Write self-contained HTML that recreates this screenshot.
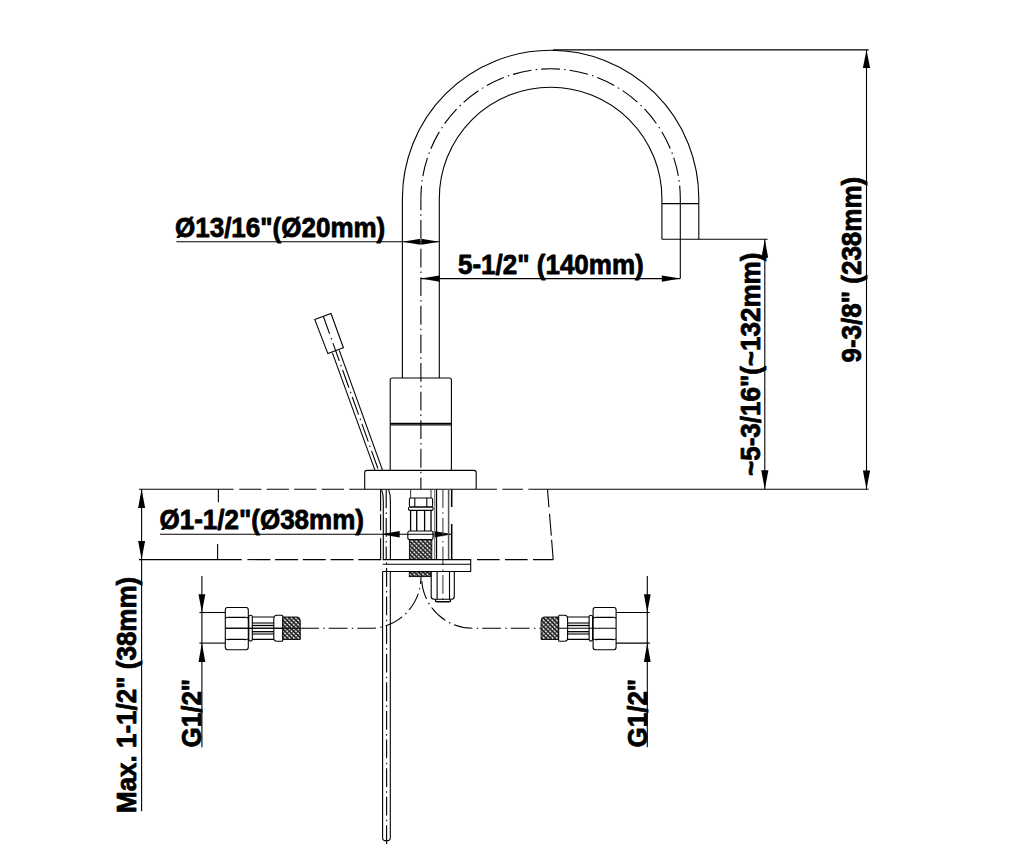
<!DOCTYPE html>
<html><head><meta charset="utf-8"><style>
html,body{margin:0;padding:0;background:#fff;}
svg{display:block;}
.t{font-family:"Liberation Sans",sans-serif;font-weight:bold;fill:#000;stroke:#000;stroke-width:0.75px;stroke-linejoin:round;}
</style></head><body>
<svg width="1024" height="865" viewBox="0 0 1024 865">
<defs><pattern id="knurl" width="3.1" height="3.1" patternUnits="userSpaceOnUse" patternTransform="rotate(45)"><rect width="3.1" height="3.1" fill="#262626"/><rect x="0.5" y="0.85" width="2.1" height="1.3" fill="#fff"/></pattern></defs>
<g fill="none" stroke="#000" stroke-linecap="butt">
<path d="M402.40000000000003 378V198.5A148.2 148.2 0 0 1 698.8 198.5V239.2" stroke-width="1.1" />
<path d="M439.3 378V198.5A111.3 111.3 0 0 1 661.9 198.5V239.2" stroke-width="1.1" />
<line x1="661.9" y1="203.6" x2="698.8" y2="203.6" stroke-width="1.1" />
<line x1="661.9" y1="239.2" x2="767.6" y2="239.2" stroke-width="1.1" />
<path d="M420.9 489V198.5" stroke-width="1.1" stroke-dasharray="18.8 4.3 1.5 4" stroke-dashoffset="7.25"/>
<path d="M420.9 198.5A129.7 129.7 0 0 1 680.3 198.5V203.6" stroke-width="1.1" stroke-dasharray="18.8 4.3 1.5 4" stroke-dashoffset="6.05"/>
<line x1="680.3" y1="203.6" x2="680.3" y2="278.6" stroke-width="1.1" />
<line x1="553" y1="49.9" x2="868.7" y2="49.9" stroke-width="1.1" />
<line x1="866.5" y1="49.9" x2="866.5" y2="489.3" stroke-width="1.1" />
<path d="M866.50 49.90L870.10 68.10L862.90 68.10Z" fill="#000" stroke="none"/>
<path d="M866.50 489.30L862.90 470.50L870.10 470.50Z" fill="#000" stroke="none"/>
<line x1="764.8" y1="239.2" x2="764.8" y2="489.3" stroke-width="1.1" />
<path d="M764.80 239.20L768.20 257.70L761.40 257.70Z" fill="#000" stroke="none"/>
<path d="M764.80 489.30L761.20 470.30L768.40 470.30Z" fill="#000" stroke="none"/>
<line x1="176.4" y1="241.7" x2="439.3" y2="241.7" stroke-width="1.1" />
<path d="M402.50 241.70L420.50 238.70L420.50 244.70Z" fill="#000" stroke="none"/>
<path d="M439.30 241.70L421.30 244.70L421.30 238.70Z" fill="#000" stroke="none"/>
<line x1="420.9" y1="278.6" x2="680.3" y2="278.6" stroke-width="1.1" />
<path d="M420.90 278.60L439.50 275.40L439.50 281.80Z" fill="#000" stroke="none"/>
<path d="M680.30 278.60L661.80 281.80L661.80 275.40Z" fill="#000" stroke="none"/>
<path d="M390.2 470V380Q390.2 378 392.2 378H449.4Q451.4 378 451.4 380V470" stroke-width="1.1" />
<line x1="390.2" y1="423.4" x2="451.4" y2="423.4" stroke-width="1.3" />
<line x1="390.2" y1="424.9" x2="451.4" y2="424.9" stroke-width="1.3" />
<path d="M364.7 489.2V472.6Q364.7 470.4 366.9 470.4H474Q476.2 470.4 476.2 472.6V489.2" stroke-width="1.1" />
<path d="M314.7 319.4L331.0 313.5L343.4 347.7L327.9 353.6Z" stroke-width="1.1" />
<line x1="332.4" y1="352.9" x2="375.0" y2="470.4" stroke-width="1.1" />
<line x1="339.3" y1="350.4" x2="382.6" y2="470.4" stroke-width="1.1" />
<path d="M322.2 313.2L378.6 470.4" stroke-width="1.1" stroke-dasharray="18.8 4.3 1.5 4" stroke-dashoffset="-3.2"/>
<line x1="139" y1="489.2" x2="233.5" y2="489.2" stroke-width="1.1" />
<path d="M239.2 489.2H364.7" stroke-width="1.1" stroke-dasharray="22.2 5.3"/>
<path d="M476.4 489.2H530.4" stroke-width="1.1" stroke-dasharray="20.5 5.5"/>
<line x1="530.4" y1="489.2" x2="868.6" y2="489.2" stroke-width="1.1" />
<line x1="364.7" y1="489.2" x2="476.2" y2="489.2" stroke-width="1.1" />
<line x1="139" y1="559.6" x2="241.7" y2="559.6" stroke-width="1.1" />
<path d="M247.4 559.6H382" stroke-width="1.1" stroke-dasharray="23 4.7"/>
<path d="M477 559.6H553.2" stroke-width="1.1" stroke-dasharray="22.6 5.4"/>
<path d="M547.5 489.4L548.95 507.2M549.5 513.8L551.3 535.6M551.6 539.7L553.2 559.6" stroke-width="1.1" />
<line x1="218.4" y1="489.2" x2="218.4" y2="502.2" stroke-width="1.1" />
<line x1="217.6" y1="544" x2="217.6" y2="559.6" stroke-width="1.1" />
<line x1="141.6" y1="489.2" x2="141.6" y2="811.3" stroke-width="1.1" />
<path d="M141.60 489.20L145.10 508.00L138.10 508.00Z" fill="#000" stroke="none"/>
<path d="M141.60 559.60L138.10 541.00L145.10 541.00Z" fill="#000" stroke="none"/>
<line x1="160" y1="534.2" x2="452" y2="534.2" stroke-width="1.1" />
<path d="M381.00 534.20L399.70 530.90L399.70 537.50Z" fill="#000" stroke="none"/>
<path d="M452.30 534.20L433.70 537.50L433.70 530.90Z" fill="#000" stroke="none"/>
<path d="M380.6 489.2V559.6" stroke-width="1.1" stroke-dasharray="22 3 16 8"/>
<path d="M381.6 489.4Q383.3 494 383.3 501V559.6" stroke-width="1.1" />
<path d="M388.5 489.4Q390.4 494 390.4 501V559.6" stroke-width="1.1" />
<path d="M386.2 489.4V559.6" stroke-width="1.1" stroke-dasharray="18.8 4.3 1.5 4"/>
<path d="M382.6 571.5V838Q382.6 840.8 386.5 840.8Q390.3 840.8 390.3 838V571.5" stroke-width="1.1" />
<path d="M386.6 559.6V844" stroke-width="1.1" stroke-dasharray="18.8 4.3 1.5 4" stroke-dashoffset="20.25"/>
<path d="M410.6 489.2V498M431 489.2V498" stroke-width="1.1" stroke="#444"/>
<path d="M411 498H431Q432.6 498 432.6 499.6V505.4Q432.6 507 431 507H411Q409.4 507 409.4 505.4V499.6Q409.4 498 411 498Z" stroke-width="1.1" />
<line x1="414.8" y1="498" x2="414.8" y2="507" stroke-width="1.1" />
<line x1="426.8" y1="498" x2="426.8" y2="507" stroke-width="1.1" />
<path d="M410.1 507H431.5A1.7 1.7 0 0 1 431.5 510.4H410.1A1.7 1.7 0 0 1 410.1 507Z" stroke-width="1.1" />
<line x1="410.6" y1="510.4" x2="410.6" y2="531" stroke-width="1.3" />
<line x1="431" y1="510.4" x2="431" y2="531" stroke-width="1.3" />
<line x1="416.7" y1="510.4" x2="416.7" y2="531" stroke-width="1.3" />
<line x1="424.6" y1="510.4" x2="424.6" y2="531" stroke-width="1.3" />
<path d="M409.5 531H431.5Q433 531 433 533V537.5Q433 539.6 431.5 539.6H409.5Q407.8 539.6 407.8 537.5V533Q407.8 531 409.5 531Z" stroke-width="1.1" />
<rect x="409.4" y="539.6" width="22.4" height="19.8" fill="url(#knurl)" stroke="#000" stroke-width="0.9"/>
<rect x="409.3" y="571.8" width="21.4" height="4.8" fill="url(#knurl)" stroke="#000" stroke-width="0.9"/>
<line x1="434.6" y1="489.2" x2="434.6" y2="559.6" stroke-width="1.0" stroke="#777"/>
<line x1="436.5" y1="489.2" x2="436.5" y2="559.6" stroke-width="1.3" />
<path d="M442.9 489.2V600" stroke-width="1.1" stroke-dasharray="18.8 4.3 1.5 4" stroke="#444"/>
<line x1="448.6" y1="489.2" x2="448.6" y2="559.6" stroke-width="1.5" stroke="#555"/>
<path d="M451.7 489.2V507M451.7 524V559.6" stroke-width="1.5" />
<path d="M382.7 559.6H470.7V571.5H382.7" stroke-width="1.1" />
<line x1="382.7" y1="564.2" x2="470.7" y2="564.2" stroke-width="1.1" />
<path d="M431.2 571.5V596.5Q431.2 599.2 434 599.2H451.5Q454.3 599.2 454.3 596.5V571.5" stroke-width="1.1" />
<line x1="437.1" y1="571.5" x2="437.1" y2="599.2" stroke-width="1.1" />
<line x1="449.5" y1="571.5" x2="449.5" y2="599.2" stroke-width="1.1" />
<path d="M435.5 599.2V600.5Q435.5 601.8 437 601.8H449Q450.5 601.8 450.5 600.5V599.2" stroke-width="1.4" />
<path d="M300.5 628.3H370A51 51.3 0 0 0 421 577" stroke-width="1.1" stroke-dasharray="18.8 4.3 1.5 4" stroke-dashoffset="0.4"/>
<path d="M421.6 577A51 51.3 0 0 0 472.6 628.3H541" stroke-width="1.1" stroke-dasharray="18.8 4.3 1.5 4" stroke-dashoffset="-4"/>
<path d="M227.3 607.5H246.3Q248.3 607.5 248.3 610V647Q248.3 649.7 246.3 649.7H227.3Q225.3 649.7 225.3 647V610Q225.3 607.5 227.3 607.5Z" stroke-width="1.1" />
<path d="M225.3 618.2Q227.3 616.8 229.3 617.4H244.3Q246.3 616.8 248.3 618.2" stroke-width="1.1" />
<path d="M225.3 638.6Q227.3 640 229.3 639.4H244.3Q246.3 640 248.3 638.6" stroke-width="1.1" />
<path d="M248.8 617Q248.8 615.3 250.55 615.3Q252.3 615.3 252.3 617V639.5Q252.3 641.1 250.55 641.1Q248.8 641.1 248.8 639.5Z" stroke-width="1.1" />
<path d="M252.3 617H273.8M252.3 639.4H273.8" stroke-width="1.1" />
<line x1="252.3" y1="623" x2="273.8" y2="623" stroke-width="1.1" />
<line x1="252.3" y1="625.5" x2="273.8" y2="625.5" stroke-width="1.3" />
<line x1="252.3" y1="631.7" x2="273.8" y2="631.7" stroke-width="1.3" />
<line x1="252.3" y1="634" x2="273.8" y2="634" stroke-width="1.1" />
<path d="M277.0 615.3H281.8Q282.8 615.3 282.8 616.3V640.3Q282.8 641.3 281.8 641.3H277.0Q273.8 641.3 273.8 638V618.5Q273.8 615.3 277.0 615.3Z" stroke-width="1.1" />
<path d="M282.8 617H297.3Q300.3 617 300.3 621V639.5H282.8Z" fill="url(#knurl)" stroke="#000" stroke-width="0.9"/>
<line x1="225.3" y1="628.3" x2="282.8" y2="628.3" stroke-width="1.1" />
<line x1="199.4" y1="612.5" x2="225.3" y2="612.5" stroke-width="1.1" />
<line x1="199.4" y1="643.1" x2="225.3" y2="643.1" stroke-width="1.1" />
<line x1="201.9" y1="576" x2="201.9" y2="747.3" stroke-width="1.1" />
<path d="M201.90 612.50L198.50 594.20L205.30 594.20Z" fill="#000" stroke="none"/>
<path d="M201.90 643.10L205.30 662.00L198.50 662.00Z" fill="#000" stroke="none"/>
<path d="M595.1 607.5H614.1Q616.1 607.5 616.1 610V647Q616.1 649.7 614.1 649.7H595.1Q593.1 649.7 593.1 647V610Q593.1 607.5 595.1 607.5Z" stroke-width="1.1" />
<path d="M593.1 618.2Q595.1 616.8 597.1 617.4H612.1Q614.1 616.8 616.1 618.2" stroke-width="1.1" />
<path d="M593.1 638.6Q595.1 640 597.1 639.4H612.1Q614.1 640 616.1 638.6" stroke-width="1.1" />
<path d="M589.1 617Q589.1 615.3 590.85 615.3Q592.6 615.3 592.6 617V639.5Q592.6 641.1 590.85 641.1Q589.1 641.1 589.1 639.5Z" stroke-width="1.1" />
<path d="M567.6 617H589.1M567.6 639.4H589.1" stroke-width="1.1" />
<line x1="567.6" y1="623" x2="589.1" y2="623" stroke-width="1.1" />
<line x1="567.6" y1="625.5" x2="589.1" y2="625.5" stroke-width="1.3" />
<line x1="567.6" y1="631.7" x2="589.1" y2="631.7" stroke-width="1.3" />
<line x1="567.6" y1="634" x2="589.1" y2="634" stroke-width="1.1" />
<path d="M559.6 615.3H564.4Q567.6 615.3 567.6 618.5V638Q567.6 641.3 564.4 641.3H559.6Q558.6 641.3 558.6 640.3V616.3Q558.6 615.3 559.6 615.3Z" stroke-width="1.1" />
<path d="M558.6 617H544.1Q541.1 617 541.1 621V639.5H558.6Z" fill="url(#knurl)" stroke="#000" stroke-width="0.9"/>
<line x1="558.6" y1="628.3" x2="616.1" y2="628.3" stroke-width="1.1" />
<line x1="616.1" y1="612.5" x2="649.8" y2="612.5" stroke-width="1.1" />
<line x1="616.1" y1="643.1" x2="649.8" y2="643.1" stroke-width="1.1" />
<line x1="647.3" y1="576" x2="647.3" y2="747.3" stroke-width="1.1" />
<path d="M647.30 612.50L643.90 594.20L650.70 594.20Z" fill="#000" stroke="none"/>
<path d="M647.30 643.10L650.70 662.00L643.90 662.00Z" fill="#000" stroke="none"/>
<line x1="226" y1="628.3" x2="300.5" y2="628.3" stroke-width="1.1" />
<text transform="translate(175 236.6) scale(1 1.048)" class="t" font-size="26">Ø13/16&quot;(Ø20mm)</text>
<text transform="translate(458 273.8) scale(1 1.048)" class="t" font-size="26">5-1/2&quot; (140mm)</text>
<text transform="translate(759.8 476) rotate(-90) scale(1 1.048)" class="t" font-size="26">~5-3/16&quot;(~132mm)</text>
<text transform="translate(860.8 362.5) rotate(-90) scale(1 1.048)" class="t" font-size="26">9-3/8&quot; (238mm)</text>
<text transform="translate(159.5 528.9) scale(1 1.048)" class="t" font-size="26">Ø1-1/2&quot;(Ø38mm)</text>
<text transform="translate(136.2 813) rotate(-90) scale(1 1.048)" class="t" font-size="26">Max. 1-1/2&quot; (38mm)</text>
<text transform="translate(201.3 747.5) rotate(-90) scale(1 1.048)" class="t" font-size="26">G1/2&quot;</text>
<text transform="translate(647 747.5) rotate(-90) scale(1 1.048)" class="t" font-size="26">G1/2&quot;</text>
</g>
</svg>
</body></html>
